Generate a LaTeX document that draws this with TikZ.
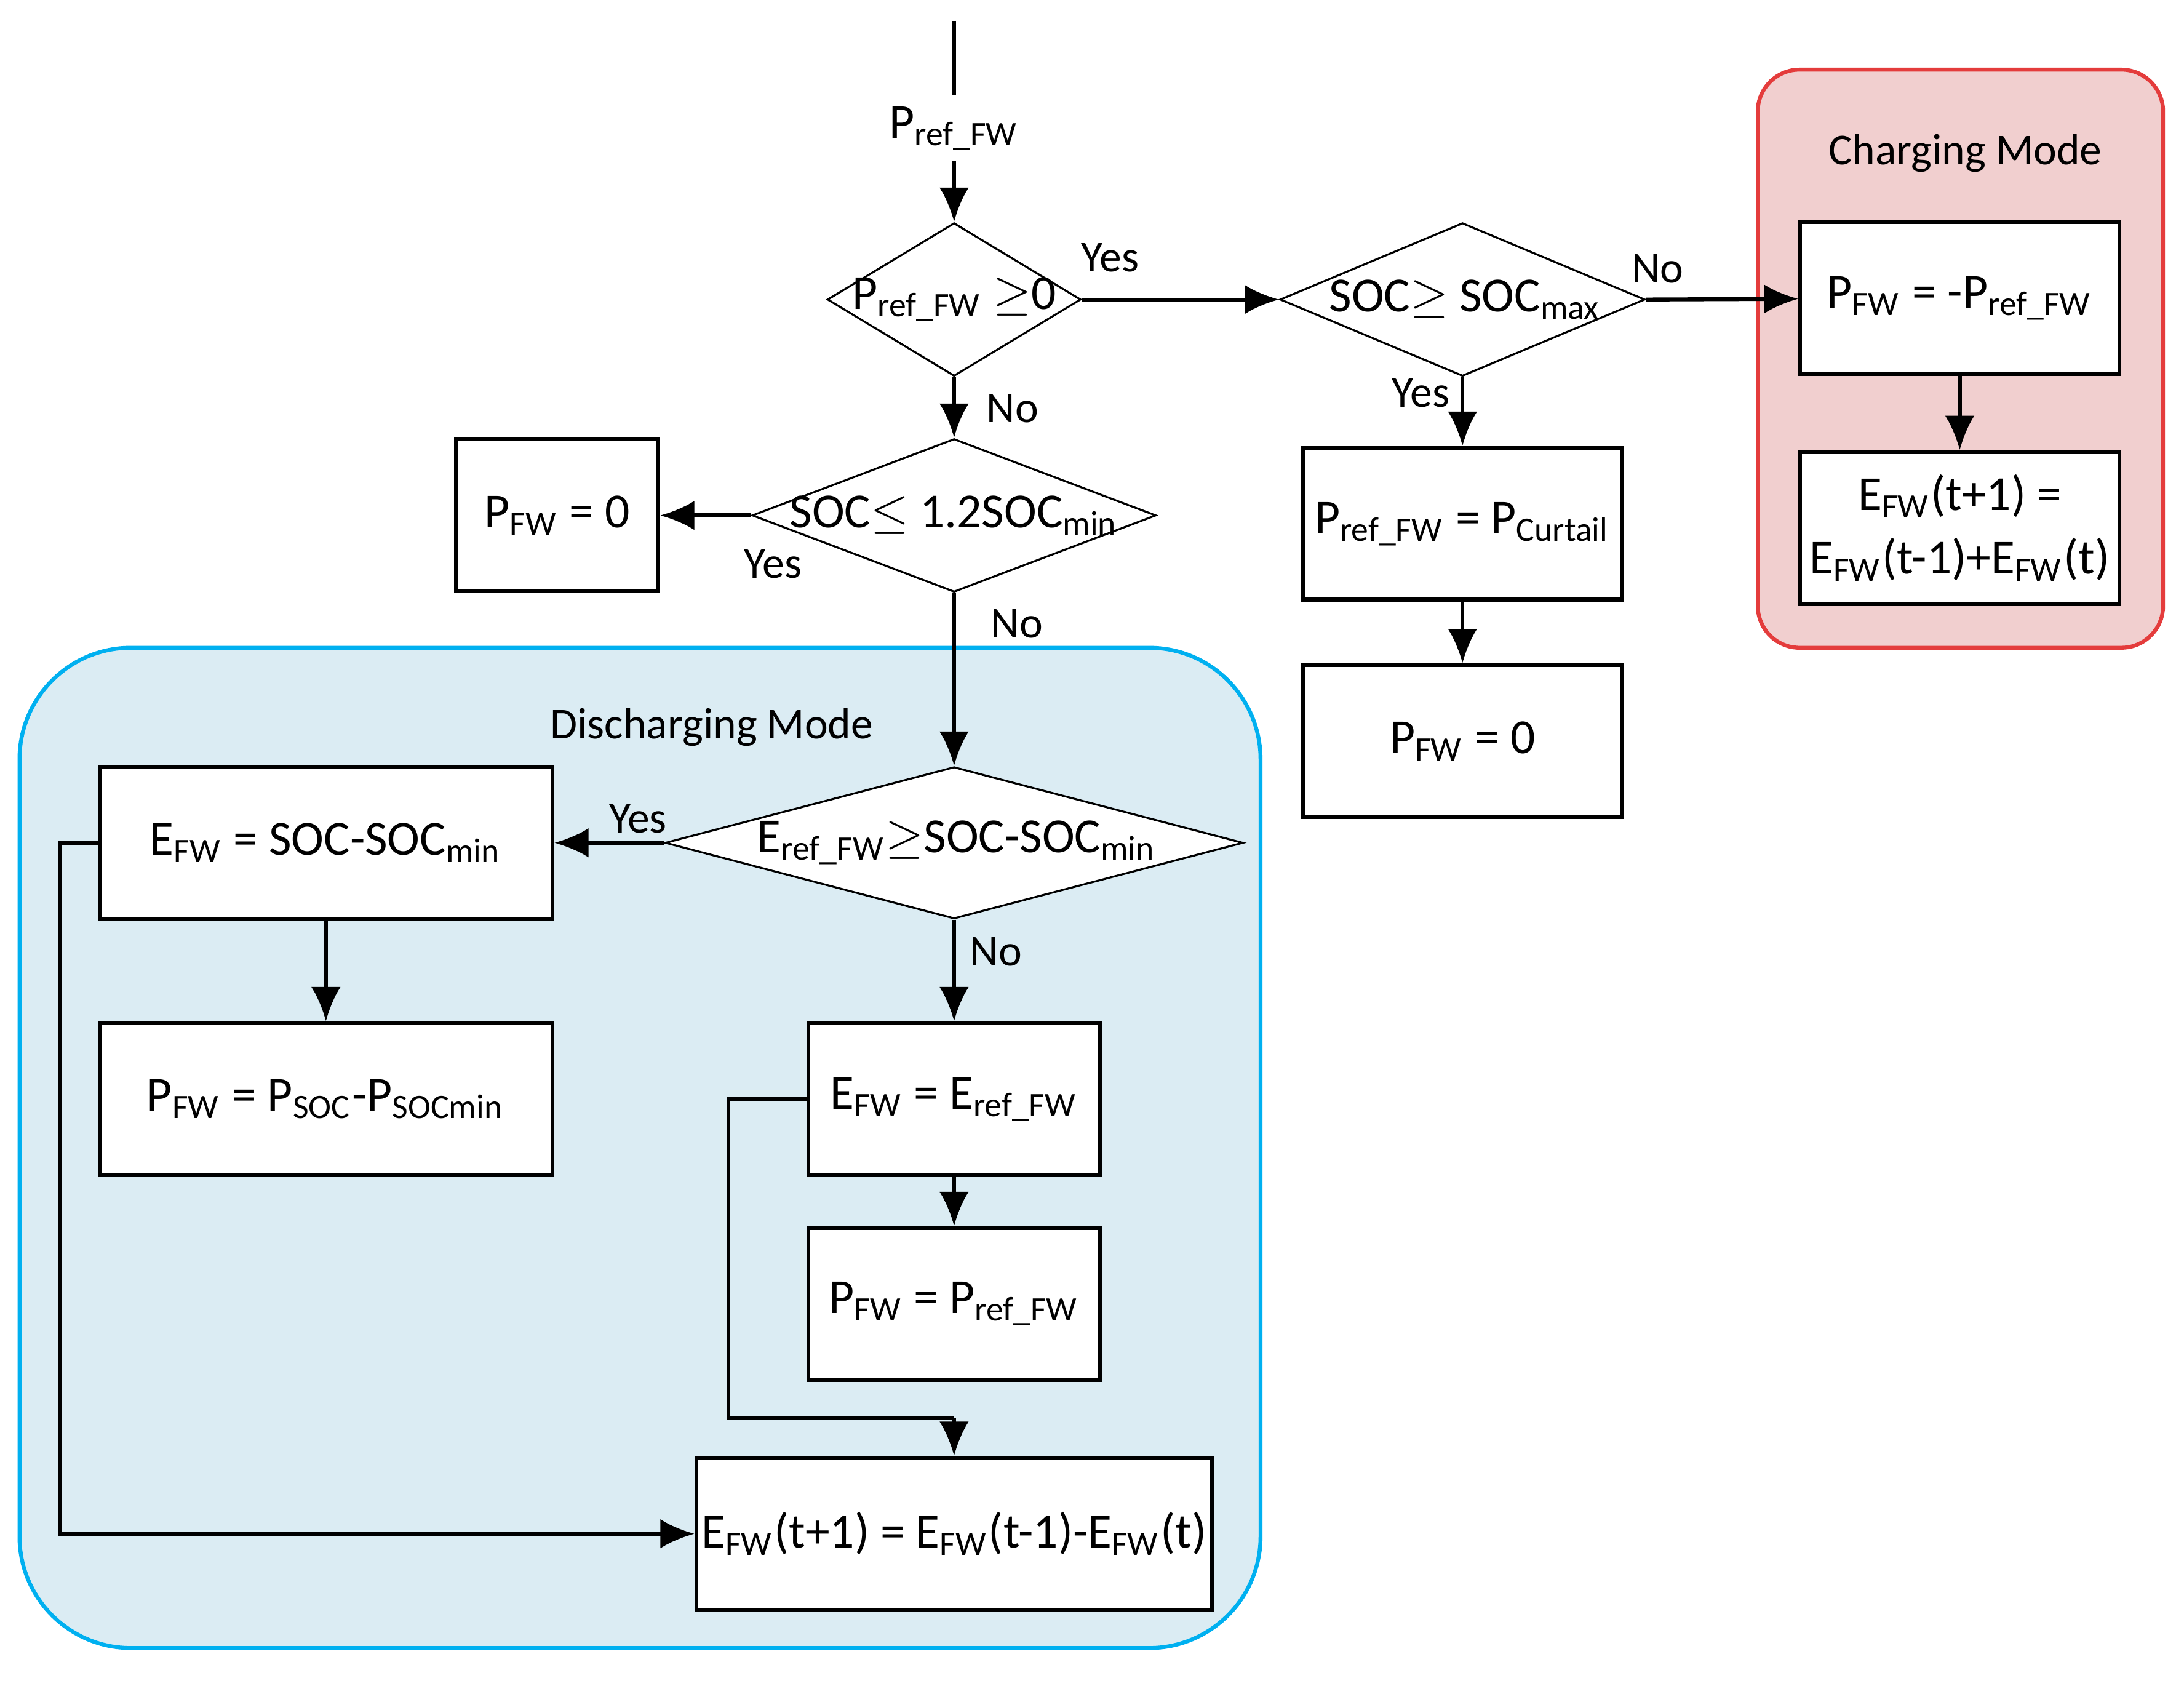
\documentclass[tikz,border=0pt]{standalone}
\usepackage{fontspec}
\setmainfont{Carlito}
\usetikzlibrary{shapes.geometric,arrows.meta}
\begin{document}
\begin{tikzpicture}[x=0.01cm,y=-0.01cm,
 box/.style={draw,thick,fill=white,minimum width=#1*0.01cm,minimum height=109*0.01cm,inner sep=1pt,font=\fontsize{10}{13}\selectfont,align=center},
 dia/.style={draw,thin,diamond,aspect=#1,fill=white,inner sep=1pt},
 dt/.style={font=\fontsize{10}{12}\selectfont},
 lab/.style={font=\fontsize{9}{11}\selectfont},
 arr/.style={-{Latex[length=7pt,width=6pt]},thick}]
\useasboundingbox (0,0) rectangle (1568,1210);
\definecolor{blu}{RGB}{219,236,243}\definecolor{blb}{RGB}{0,176,240}
\definecolor{rd}{RGB}{241,207,207}\definecolor{rdb}{RGB}{228,60,60}
\fill[blu,draw=blb,thick,rounded corners=80*0.01cm] (14,465) rectangle (905,1183);
\fill[rd,draw=rdb,thick,rounded corners=30*0.01cm] (1262,50) rectangle (1553,465);
\node[lab] (cm) at (1411,110) {Charging Mode};
\node[lab] (dm) at (511,522) {Discharging Mode};
\coordinate (top) at (685,15);
\node[fill=white,inner sep=2pt,dt] (pin) at (685,92) {P\textsubscript{ref\_FW}};
\node[dia=1.65,minimum width=182*0.01cm,minimum height=110*0.01cm] (d1) at (685,215) {};
\node[dt] at (685,215) {P\textsubscript{ref\_FW} $\geq$0};
\node[dia=2.4,minimum width=262*0.01cm,minimum height=110*0.01cm] (d2) at (1050,215) {};
\node[dt] at (1052,215) {SOC$\geq$ SOC\textsubscript{max}};
\node[dia=2.6,minimum width=290*0.01cm,minimum height=110*0.01cm] (d3) at (685,370) {};
\node[dt] at (685,370) {SOC$\leq$ 1.2SOC\textsubscript{min}};
\node[dia=3.8,minimum width=415*0.01cm,minimum height=109*0.01cm] (d4) at (685,605) {};
\node[dt] at (687,605) {E\textsubscript{ref\_FW}$\geq$SOC-SOC\textsubscript{min}};
\node[box=229] (b1) at (1407,214) {P\textsubscript{FW} = -P\textsubscript{ref\_FW}};
\node[box=229] (b2) at (1407,379) {E\textsubscript{FW}(t+1) =\\E\textsubscript{FW}(t-1)+E\textsubscript{FW}(t)};
\node[box=229] (b3) at (1050,376) {P\textsubscript{ref\_FW} = P\textsubscript{Curtail}};
\node[box=229] (b4) at (1050,532) {P\textsubscript{FW} = 0};
\node[box=145] (b5) at (400,370) {P\textsubscript{FW} = 0};
\node[box=325] (b6) at (234,605) {E\textsubscript{FW} = SOC-SOC\textsubscript{min}};
\node[box=325] (b7) at (234,789) {P\textsubscript{FW} = P\textsubscript{SOC}-P\textsubscript{SOCmin}};
\node[box=209] (b8) at (685,789) {E\textsubscript{FW} = E\textsubscript{ref\_FW}};
\node[box=209] (b9) at (685,936) {P\textsubscript{FW} = P\textsubscript{ref\_FW}};
\node[box=369] (b10) at (685,1101) {E\textsubscript{FW}(t+1) = E\textsubscript{FW}(t-1)-E\textsubscript{FW}(t)};
\draw[thick] (top) -- (pin);
\draw[arr] (pin) -- (d1);
\draw[arr] (d1.east) -- (d2.west);
\draw[arr] (d2.east) -- (b1);
\draw[arr] (b1) -- (b2);
\draw[arr] (d2.south) -- (b3);
\draw[arr] (b3) -- (b4);
\draw[arr] (d1.south) -- (d3.north);
\draw[arr] (d3.west) -- (b5);
\draw[arr] (d3.south) -- (d4.north);
\draw[arr] (d4.west) -- (b6);
\draw[arr] (b6) -- (b7);
\draw[arr] (d4.south) -- (b8);
\draw[arr] (b8) -- (b9);
\draw[arr] (b6.west) -- ++(-27,0) |- (b10.west);
\coordinate (j) at (685,1018);
\draw[thick] (b8.west) -- ++(-56,0) |- (j);
\draw[arr] (j) -- (b10.north);
\node[lab] at (797,185) {Yes};
\node[lab] at (1190,193) {No};
\node[lab] at (1020,282) {Yes};
\node[lab] at (727,293) {No};
\node[lab] at (555,405) {Yes};
\node[lab] at (730,448) {No};
\node[lab] at (458,588) {Yes};
\node[lab] at (715,683) {No};
\end{tikzpicture}
\end{document}
